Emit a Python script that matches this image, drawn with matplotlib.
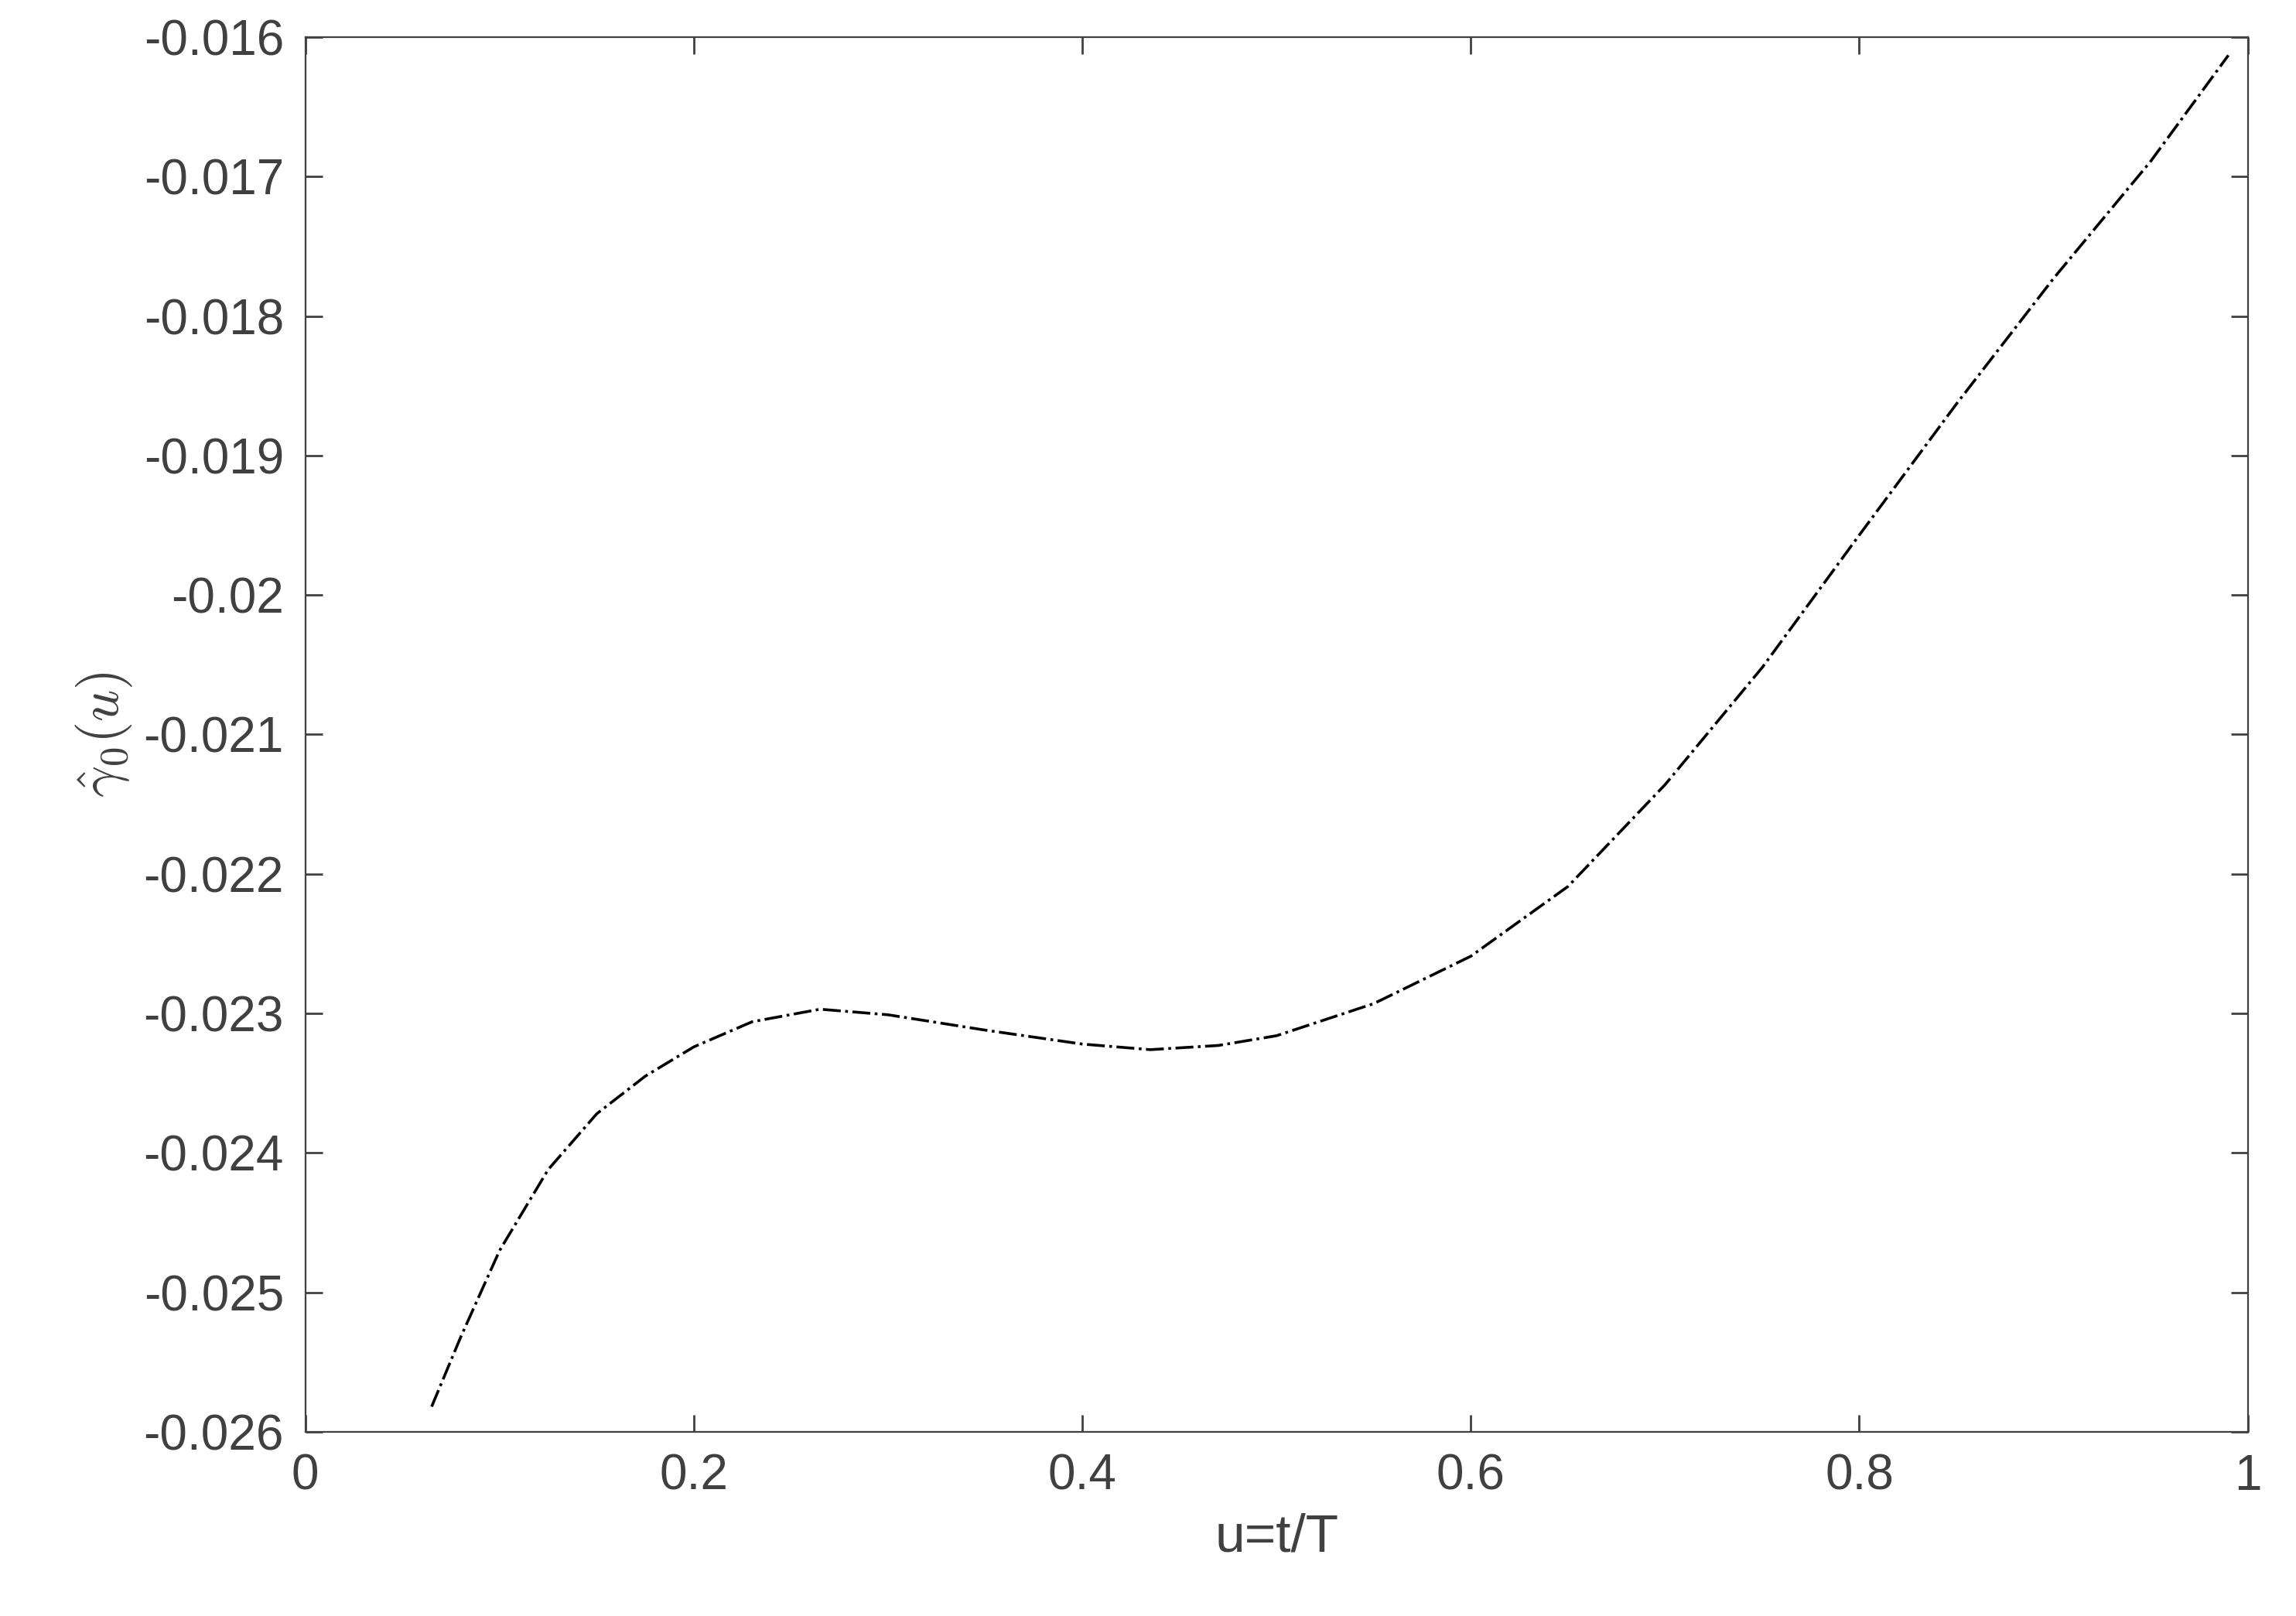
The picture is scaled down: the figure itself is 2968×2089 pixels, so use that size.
import numpy as np
import matplotlib.pyplot as plt

plt.rcParams['font.family'] = ['Liberation Sans', 'DejaVu Sans']
plt.rcParams['mathtext.fontset'] = 'cm'

u = [0.065, 0.08, 0.1, 0.125, 0.15, 0.175, 0.2, 0.23, 0.265, 0.3, 0.35, 0.4,
     0.435, 0.47, 0.5, 0.55, 0.6, 0.65, 0.7, 0.75, 0.8, 0.85, 0.9, 0.95, 0.99]
gamma0 = [-0.02582, -0.02532, -0.02470, -0.02412, -0.02372, -0.02345, -0.02324,
          -0.02306, -0.02297, -0.02301, -0.02312, -0.02322, -0.02326, -0.02323,
          -0.02316, -0.02293, -0.02259, -0.02209, -0.02136, -0.02052, -0.01957,
          -0.01863, -0.01773, -0.01689, -0.01613]

fig = plt.figure(figsize=(14.84, 10.445), dpi=200)
ax = fig.add_axes([0.133, 0.114, 0.846, 0.863])
ax.plot(u, gamma0, color='black', linestyle='-.', linewidth=1.3)

ax.set_xlim(0, 1)
ax.set_ylim(-0.026, -0.016)
ax.set_xticks([0, 0.2, 0.4, 0.6, 0.8, 1])
ax.set_xticklabels(['0', '0.2', '0.4', '0.6', '0.8', '1'])
yt = np.arange(-0.026, -0.0159, 0.001)
ax.set_yticks(yt)
ax.set_yticklabels(['%g' % round(v, 3) for v in yt])
ax.tick_params(direction='in', top=True, right=True, length=8, width=1,
               labelsize=23, pad=10, labelcolor='#404040', colors='#404040')
for s in ax.spines.values():
    s.set_color('#404040')
ax.set_xlabel('u=t/T', fontsize=25, color='#404040', labelpad=6)
ax.set_ylabel(r'$\hat{\gamma}_0(u)$', fontsize=26, color='#404040', labelpad=4)

fig.savefig('out.png')
